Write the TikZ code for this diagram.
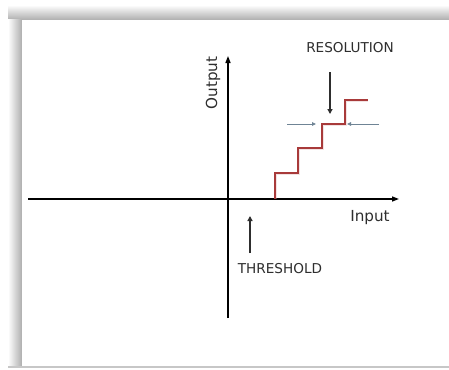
\documentclass[tikz,border=0pt]{standalone}
\usepackage{fontspec}
\setmainfont{DejaVu Sans}
\usetikzlibrary{arrows.meta}
\definecolor{stair}{HTML}{A83A3A}
\definecolor{gap}{HTML}{6F8495}
\definecolor{ink}{HTML}{2E2E2E}
\tikzset{
  axis/.style={line width=1.4pt, -{Triangle[length=7pt,width=5pt]}},
  pointer/.style={line width=1.8pt, ink, -{Triangle[length=5pt,width=5pt]}},
  gaparrow/.style={line width=0.9pt, gap, -{Triangle[length=4pt,width=3.5pt]}},
  lbl/.style={font=\fontsize{13.6}{15}\selectfont, text=ink, inner sep=0pt},
  axlbl/.style={font=\fontsize{15.2}{17}\selectfont, text=ink, inner sep=0pt},
}
\begin{document}
\begin{tikzpicture}[x=1pt,y=-1pt]
  \useasboundingbox (0,0) rectangle (449,369);
  \fill[white] (0,0) rectangle (449,369);
  % soft shadow bands of the frame
  \shade[top color=white, bottom color=black!32] (8,5) rectangle (449,20);
  \shade[left color=white, right color=black!32] (8,20) rectangle (22,366);
  \fill[black!22] (8,366) rectangle (449,368);
  % white panel
  \fill[white] (22,20) rectangle (449,366);

  % axes
  \coordinate (xl) at (28,199);
  \coordinate (xr) at (399,199);
  \coordinate (yb) at (228,318);
  \coordinate (yt) at (228,56);
  \draw[axis] (xl) -- (xr);
  \draw[axis] (yb) -- (yt);
  \node[axlbl, rotate=90] (out) at (213,83) {Output};
  \node[axlbl] (in) at (370,218) {Input};

  % staircase transfer curve
  \draw[stair!40, line width=3pt, opacity=0.35, line join=miter]
    (275,199) -- (275,173) -- (298,173) -- (298,148) -- (322,148)
    -- (322,124) -- (345,124) -- (345,100) -- (368,100);
  \draw[stair, line width=1.3pt, line join=miter]
    (275,199) -- (275,173) -- (298,173) -- (298,148) -- (322,148)
    -- (322,124) -- (345,124) -- (345,100) -- (368,100);

  % threshold
  \node[lbl] (thr) at (280,269) {THRESHOLD};
  \coordinate (thrs) at (250,253);
  \coordinate (thre) at (250,216);
  \draw[pointer] (thrs) -- (thre);

  % resolution
  \node[lbl] (res) at (350,48) {RESOLUTION};
  \coordinate (ress) at (330,72);
  \coordinate (rese) at (330,114);
  \draw[pointer] (ress) -- (rese);
  \coordinate (gl) at (287,124);
  \coordinate (glt) at (316,124);
  \coordinate (gr) at (379,124);
  \coordinate (grt) at (347,124);
  \draw[gaparrow] (gl) -- (glt);
  \draw[gaparrow] (gr) -- (grt);
\end{tikzpicture}
\end{document}
